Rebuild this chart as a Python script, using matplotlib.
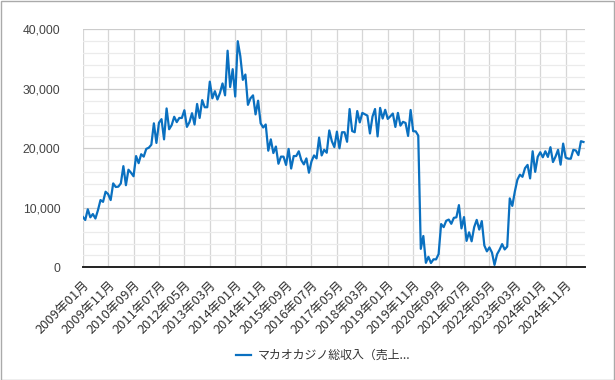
import matplotlib
matplotlib.use("Agg")
import matplotlib.pyplot as plt
from matplotlib.patches import Rectangle
from matplotlib.ticker import MultipleLocator, FuncFormatter
import numpy as np

plt.rcParams['font.family'] = ['Noto Sans CJK JP', 'DejaVu Sans']

series_name = "マカオカジノ総収入（売上..."

# Monthly values, 2009-01 .. 2025-06 (million MOP)
values = [
    8500, 7950, 9750, 8400, 8950, 8200, 9600, 11300, 11000, 12700, 12300, 11300,   # 2009
    14100, 13500, 13550, 14100, 17000, 13800, 16400, 15900, 15300, 18700, 17500, 19000,  # 2010
    18600, 19900, 20100, 20600, 24200, 20900, 24300, 24900, 21500, 26700, 23200, 23900,  # 2011
    25300, 24400, 25100, 25100, 26400, 23600, 24400, 25900, 24000, 27450, 25100, 28100,  # 2012
    26900, 26900, 31200, 28400, 29600, 28200, 29300, 30900, 28900, 36400, 30300, 33300,  # 2013
    28700, 38000, 35500, 31500, 32400, 27300, 28400, 28900, 25700, 28000, 24200, 23500,  # 2014
    24000, 19600, 21500, 19200, 20300, 17400, 18600, 18600, 17200, 19900, 16600, 18700,  # 2015
    18700, 19500, 18000, 17300, 18300, 15900, 17800, 18800, 18300, 21800, 18800, 19750,  # 2016
    19250, 23000, 21200, 20200, 22800, 20000, 22700, 22700, 21100, 26600, 22900, 22700,  # 2017
    26260, 24350, 25950, 25730, 25490, 22490, 25330, 26600, 22000, 26790, 25000, 26470,  # 2018
    24940, 25370, 25840, 23590, 25950, 23810, 24450, 24260, 22080, 26440, 22880, 22840,  # 2019
    22130, 3100, 5260, 750, 1760, 720, 1340, 1330, 2210, 7270, 6750, 7820,  # 2020
    8020, 7310, 8310, 8400, 10450, 6540, 8440, 4440, 5880, 4370, 6750, 7970,  # 2021
    6340, 7760, 3670, 2680, 3340, 2480, 400, 2190, 2960, 3900, 3000, 3480,  # 2022
    11580, 10320, 12740, 14720, 15570, 15210, 16660, 17210, 14940, 19500, 16040, 18570,  # 2023
    19340, 18490, 19500, 18550, 20190, 17690, 18600, 19750, 17250, 20790, 18440, 18260,  # 2024
    18250, 19740, 19630, 18860, 21190, 21060,  # 2025
]

tick_labels = [
    "2009年01月", "2009年11月", "2010年09月", "2011年07月", "2012年05月",
    "2013年03月", "2014年01月", "2014年11月", "2015年09月", "2016年07月",
    "2017年05月", "2018年03月", "2019年01月", "2019年11月", "2020年09月",
    "2021年07月", "2022年05月", "2023年03月", "2024年01月", "2024年11月",
]
tick_step = 10

W, H = 615, 380
fig = plt.figure(figsize=(W / 100, H / 100), dpi=100)
ax = fig.add_axes([82.7 / W, 1 - 267.3 / H, (584.5 - 82.7) / W, (267.3 - 29.3) / H])

x = np.arange(len(values))
ax.plot(x, values, color='#0a70c0', lw=1.6, solid_joinstyle='round', zorder=3,
        label=series_name)

ax.set_ylim(0, 40000)
ax.set_xlim(0, 197.4)
ax.yaxis.set_major_locator(MultipleLocator(10000))
ax.yaxis.set_minor_locator(MultipleLocator(2000))
ax.yaxis.set_major_formatter(FuncFormatter(lambda v, p: f"{int(v):,}"))
ax.set_xticks(np.arange(len(tick_labels)) * tick_step)
ax.set_xticklabels(tick_labels, rotation=45, ha='right', va='top',
                   rotation_mode='anchor', fontsize=9.3, color='#333333')
for lab in ax.get_yticklabels():
    lab.set_fontfamily(['Liberation Sans', 'DejaVu Sans'])
ax.tick_params(axis='y', which='both', length=0, pad=16, labelsize=8.7, labelcolor='#444444')
ax.tick_params(axis='x', which='both', length=0, pad=8)

ax.grid(axis='y', which='major', color='#cccccc', lw=0.9, zorder=0)
ax.grid(axis='y', which='minor', color='#ebebeb', lw=0.9, zorder=0)
ax.grid(axis='x', which='major', color='#d6d6d6', lw=0.9, zorder=0)
for s in ['top', 'right', 'left']:
    ax.spines[s].set_visible(False)
ax.spines['bottom'].set_color('#222222')
ax.spines['bottom'].set_linewidth(1.4)
ax.spines['bottom'].set_zorder(4)

fig.legend(loc='center', bbox_to_anchor=(323 / W, 1 - 355.7 / H), frameon=False,
           handlelength=1.3, handletextpad=0.5, fontsize=8.6,
           labelcolor='#333333')

fig.add_artist(Rectangle((0.5 / W, 0.5 / H), 1 - 1.5 / W, 1 - 1.5 / H,
                         transform=fig.transFigure, fill=False,
                         edgecolor='#aaaaaa', lw=1.0))

fig.savefig("out.png", dpi=100, facecolor='white')
